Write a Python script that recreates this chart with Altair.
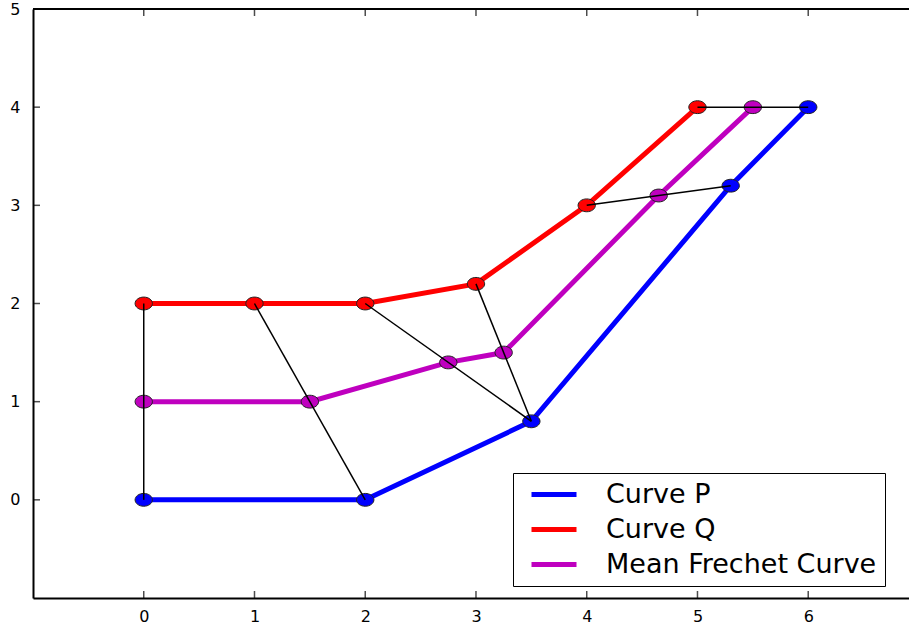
import altair as alt
import pandas as pd

# Curve P
p_x = [0, 2, 3.5, 5.3, 6]
p_y = [0, 0, 0.8, 3.2, 4]
# Curve Q
q_x = [0, 1, 2, 3, 4, 5]
q_y = [2, 2, 2, 2.2, 3, 4]
# Mean Frechet curve
m_x = [0, 1.5, 2.75, 3.25, 4.65, 5.5]
m_y = [1, 1, 1.4, 1.5, 3.1, 4]
# coupling pairs (index in Q, index in P)
pairs = [(0, 0), (1, 1), (2, 2), (3, 2), (4, 3), (5, 4)]

x_ticks = [0, 1, 2, 3, 4, 5, 6]
y_ticks = [0, 1, 2, 3, 4, 5]

names = ["Curve P", "Curve Q", "Mean Frechet Curve"]
colors = ["#0000ff", "#ff0000", "#bf00bf"]

rows = []
for name, xs_, ys_ in [(names[0], p_x, p_y), (names[1], q_x, q_y), (names[2], m_x, m_y)]:
    for i, (x, y) in enumerate(zip(xs_, ys_)):
        rows.append({"curve": name, "i": i, "x": x, "y": y})
df = pd.DataFrame(rows)

seg_rows = []
for k, (qi, pi) in enumerate(pairs):
    seg_rows.append({"seg": k, "o": 0, "x": q_x[qi], "y": q_y[qi]})
    seg_rows.append({"seg": k, "o": 1, "x": p_x[pi], "y": p_y[pi]})
seg = pd.DataFrame(seg_rows)

XD = [-1, 6.91]
YD = [-1, 5]
FONT = "DejaVu Sans"

xs = alt.Scale(domain=XD, nice=False, zero=False)
ys = alt.Scale(domain=YD, nice=False, zero=False)

xax = alt.Axis(values=x_ticks, format="d", ticks=False, grid=False, domainColor="black", domainWidth=2,
               labelFont=FONT, labelFontSize=16, labelColor="black", labelPadding=10, title=None)
yax = alt.Axis(values=y_ticks, format="d", ticks=False, grid=False, domainColor="black", domainWidth=2,
               labelFont=FONT, labelFontSize=16, labelColor="black", labelPadding=13, title=None)

lines = alt.Chart(df).mark_line(strokeWidth=5, clip=True).encode(
    x=alt.X("x:Q", scale=xs, axis=xax),
    y=alt.Y("y:Q", scale=ys, axis=yax),
    color=alt.Color("curve:N", scale=alt.Scale(domain=names, range=colors),
                    legend=alt.Legend(title=None, orient="none", legendX=480, legendY=464,
                                      symbolType="M-0.3,0H4.2", symbolSize=400, symbolStrokeWidth=5,
                                      labelFont=FONT, labelFontSize=27, labelColor="black",
                                      labelLimit=500, strokeColor="black", fillColor="white",
                                      padding=8, rowPadding=7, labelOffset=58)),
    order="i:Q",
    detail="curve:N",
)

segs = alt.Chart(seg).mark_line(color="black", strokeWidth=1.5).encode(
    x=alt.X("x:Q", scale=xs),
    y=alt.Y("y:Q", scale=ys),
    detail="seg:N",
    order="o:Q",
)

ellipse = "M-1.35,0A1.35,1,0,1,0,1.35,0A1.35,1,0,1,0,-1.35,0Z"
points = alt.Chart(df).mark_point(filled=True, size=165, shape=ellipse, stroke="#222222",
                                  strokeWidth=1, opacity=1).encode(
    x=alt.X("x:Q", scale=xs),
    y=alt.Y("y:Q", scale=ys),
    fill=alt.Fill("curve:N", scale=alt.Scale(domain=names, range=colors), legend=None),
)

xt = pd.DataFrame({"x": x_ticks})
yt = pd.DataFrame({"y": y_ticks})
bottom_ticks = alt.Chart(xt).mark_tick(orient="vertical", size=14, thickness=1.5, color="black", clip=True).encode(
    x=alt.X("x:Q", scale=xs), y=alt.datum(YD[0]))
top_ticks = alt.Chart(xt).mark_tick(orient="vertical", size=14, thickness=1.5, color="black", clip=True).encode(
    x=alt.X("x:Q", scale=xs), y=alt.datum(YD[1]))
left_ticks = alt.Chart(yt).mark_tick(orient="horizontal", size=14, thickness=1.5, color="black", clip=True).encode(
    y=alt.Y("y:Q", scale=ys), x=alt.datum(XD[0]))
top_border = alt.Chart(pd.DataFrame({"v": [YD[1]]})).mark_rule(color="black", strokeWidth=2).encode(
    y=alt.Y("v:Q", scale=ys))

chart = alt.layer(lines, points, segs, bottom_ticks, top_ticks, left_ticks, top_border).properties(
    width=876, height=589,
    autosize=alt.AutoSizeParams(type="none"),
    padding={"left": 33, "top": 9, "right": 0, "bottom": 32},
).configure_view(stroke=None).configure(background="white")

chart.save("out.html", embed_options={"renderer": "svg", "actions": False})
